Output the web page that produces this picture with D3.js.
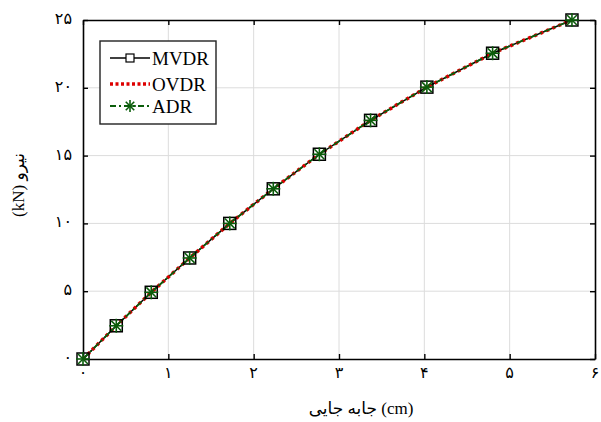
<!DOCTYPE html>
<html>
<head>
<meta charset="utf-8">
<script src="https://cdn.jsdelivr.net/npm/d3@7"></script>
<style>
  body { margin: 0; background: #fff; }
  text { font-family: "Liberation Serif", "DejaVu Sans", serif; }
</style>
</head>
<body>
<svg id="chart"></svg>
<script>
const width = 601;
const height = 422;

// displacement (cm) at each marker, force (kN)
var disp = [0, 0.39, 0.80, 1.25, 1.72, 2.23, 2.77, 3.37, 4.03, 4.80, 5.73];
var forceMVDR = [0, 2.45, 4.92, 7.45, 10.0, 12.55, 15.1, 17.6, 20.05, 22.55, 25.0];
var forceOVDR = [0, 2.45, 4.92, 7.45, 10.0, 12.55, 15.1, 17.6, 20.05, 22.55, 25.0];
var forceADR = [0, 2.45, 4.92, 7.45, 10.0, 12.55, 15.1, 17.6, 20.05, 22.55, 25.0];
var xTicks = [0, 1, 2, 3, 4, 5, 6];
var yTicks = [0, 5, 10, 15, 20, 25];
var fa = ["۰", "۱", "۲", "۳", "۴", "۵", "۶", "۷", "۸", "۹"];
var seriesNames = ["MVDR", "OVDR", "ADR"];

function persian(n) {
    return String(n).split("").map((c) => fa[+c]).join("");
}

var svg = d3.select("#chart").attr("width", width).attr("height", height);

const pLeft = 83, pRight = 595, pTop = 20, pBottom = 359;
var xScale = d3.scaleLinear().domain([0, 6]).range([pLeft, pRight]);
var yScale = d3.scaleLinear().domain([0, 25]).range([pBottom, pTop]);

// grid
svg.append("g").selectAll("line")
    .data(xTicks.slice(1, -1))
    .enter().append("line")
    .attr("x1", (d) => xScale(d)).attr("x2", (d) => xScale(d))
    .attr("y1", pTop).attr("y2", pBottom)
    .attr("stroke", "#dcdcdc").attr("stroke-width", 1);
svg.append("g").selectAll("line")
    .data(yTicks.slice(1, -1))
    .enter().append("line")
    .attr("y1", (d) => yScale(d)).attr("y2", (d) => yScale(d))
    .attr("x1", pLeft).attr("x2", pRight)
    .attr("stroke", "#dcdcdc").attr("stroke-width", 1);

// axes, ticks pointing inward, box
var xAxis = d3.axisBottom(xScale).tickValues(xTicks).tickSize(-5).tickSizeOuter(0).tickFormat("");
var xAxisTop = d3.axisTop(xScale).tickValues(xTicks).tickSize(-5).tickSizeOuter(0).tickFormat("");
var yAxis = d3.axisLeft(yScale).tickValues(yTicks).tickSize(-5).tickSizeOuter(0).tickFormat("");
var yAxisRight = d3.axisRight(yScale).tickValues(yTicks).tickSize(-5).tickSizeOuter(0).tickFormat("");

[[xAxis, `translate(0,${pBottom})`], [xAxisTop, `translate(0,${pTop})`],
 [yAxis, `translate(${pLeft},0)`], [yAxisRight, `translate(${pRight},0)`]].forEach((a) => {
    var g = svg.append("g").attr("transform", a[1]).call(a[0]);
    g.select(".domain").attr("stroke", "#000").attr("stroke-width", 1.6);
    g.selectAll(".tick line").attr("stroke", "#000").attr("stroke-width", 1.4);
});

// tick labels (Persian digits)
svg.append("g").selectAll("text")
    .data(xTicks)
    .enter().append("text")
    .attr("x", (d) => xScale(d))
    .attr("y", 378)
    .attr("text-anchor", "middle")
    .attr("font-size", 16)
    .attr("font-family", "DejaVu Sans")
    .text((d) => persian(d));

svg.append("g").selectAll("text")
    .data(yTicks)
    .enter().append("text")
    .attr("x", 72)
    .attr("y", (d) => yScale(d) + 4)
    .attr("text-anchor", "end")
    .attr("font-size", 16)
    .attr("font-family", "DejaVu Sans")
    .text((d) => persian(d));

// axis titles
svg.append("text")
    .attr("x", 361).attr("y", 414)
    .attr("text-anchor", "middle")
    .attr("font-size", 17)
    .text("جابه جایی (cm)");

svg.append("text")
    .attr("transform", "translate(24,185) rotate(-90)")
    .attr("text-anchor", "middle")
    .attr("font-size", 17)
    .text("(kN) نیرو");

// lines
var line = d3.line().x((d) => xScale(d[0])).y((d) => yScale(d[1]));

svg.append("path")
    .attr("d", line(d3.zip(disp, forceMVDR)))
    .attr("fill", "none").attr("stroke", "#000").attr("stroke-width", 1.5);
svg.append("path")
    .attr("d", line(d3.zip(disp, forceOVDR)))
    .attr("fill", "none").attr("stroke", "#dd0000").attr("stroke-width", 3.5)
    .attr("stroke-dasharray", "3,3.5");
svg.append("path")
    .attr("d", line(d3.zip(disp, forceADR)))
    .attr("fill", "none").attr("stroke", "#0b5d0b").attr("stroke-width", 1.8)
    .attr("stroke-dasharray", "7,3,2,3");

// markers
function square(g, x, y) {
    g.append("rect")
        .attr("x", x - 6).attr("y", y - 6)
        .attr("width", 12).attr("height", 12)
        .attr("fill", "none").attr("stroke", "#000").attr("stroke-width", 1.5);
}
function star(g, x, y, r) {
    [0, 45, 90, 135].forEach((a) => {
        var rad = a * Math.PI / 180;
        g.append("line")
            .attr("x1", x - r * Math.cos(rad)).attr("y1", y - r * Math.sin(rad))
            .attr("x2", x + r * Math.cos(rad)).attr("y2", y + r * Math.sin(rad))
            .attr("stroke", "#0b5d0b").attr("stroke-width", 1.6);
    });
}

var mk = svg.append("g");
disp.forEach((d, i) => square(mk, xScale(d), yScale(forceMVDR[i])));
disp.forEach((d, i) => star(mk, xScale(d), yScale(forceADR[i]), 7));

// legend
var lg = svg.append("g");
lg.append("rect")
    .attr("x", 100).attr("y", 41).attr("width", 116).attr("height", 83)
    .attr("fill", "#fff").attr("stroke", "#222").attr("stroke-width", 1.4);

var rows = [58, 84, 106];
lg.append("line").attr("x1", 110).attr("x2", 150).attr("y1", rows[0]).attr("y2", rows[0])
    .attr("stroke", "#000").attr("stroke-width", 1.5);
lg.append("rect").attr("x", 130 - 4).attr("y", rows[0] - 4).attr("width", 8).attr("height", 8)
    .attr("fill", "#fff").attr("stroke", "#000").attr("stroke-width", 1.2);
lg.append("line").attr("x1", 110).attr("x2", 150).attr("y1", rows[1]).attr("y2", rows[1])
    .attr("stroke", "#dd0000").attr("stroke-width", 3.5).attr("stroke-dasharray", "3,2.5");
lg.append("line").attr("x1", 110).attr("x2", 150).attr("y1", rows[2]).attr("y2", rows[2])
    .attr("stroke", "#0b5d0b").attr("stroke-width", 1.8).attr("stroke-dasharray", "6,3,2,3");
star(lg, 130, rows[2], 6);

lg.selectAll("text.leg")
    .data(seriesNames)
    .enter().append("text")
    .attr("class", "leg")
    .attr("x", 152)
    .attr("y", (d, i) => rows[i] + 6.5)
    .attr("font-size", 19)
    .text((d) => d);
</script>
</body>
</html>
